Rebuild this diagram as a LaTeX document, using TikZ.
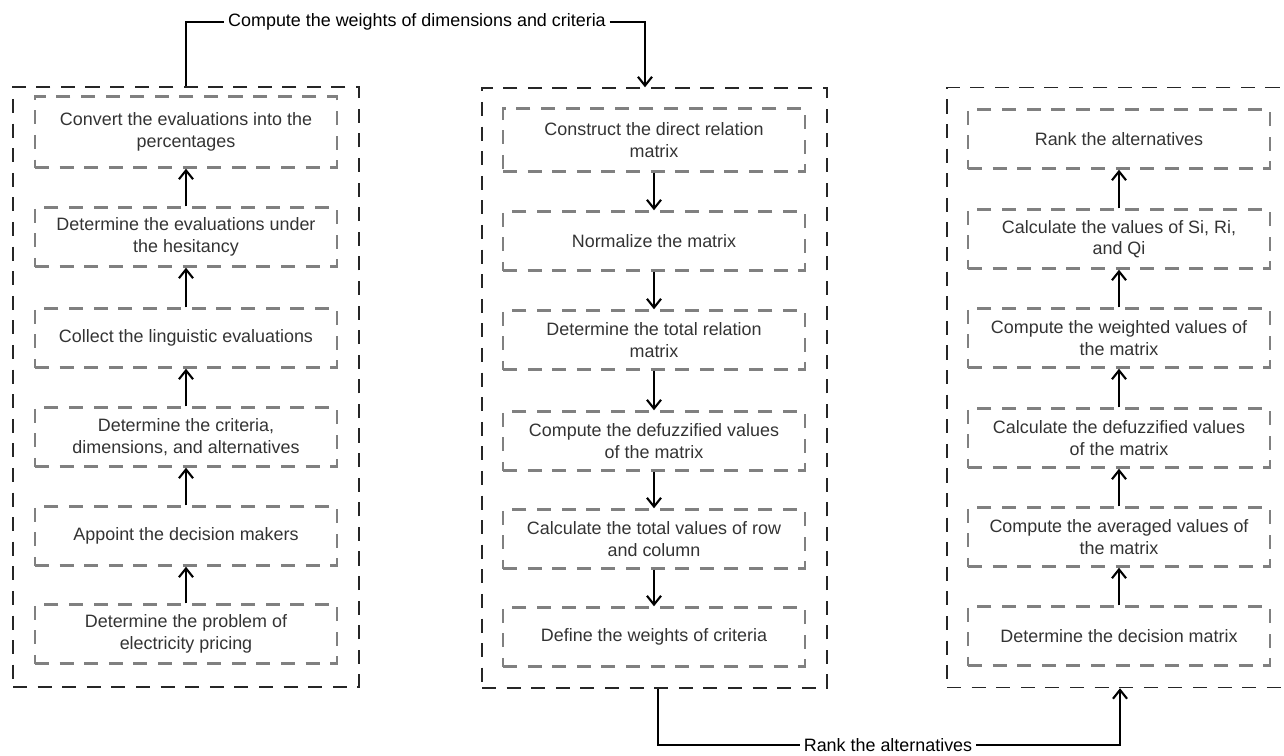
\documentclass[tikz,border=0pt]{standalone}
\usepackage{fontspec}
\setmainfont{Liberation Sans}
\usetikzlibrary{positioning, arrows.meta}
\definecolor{boxgray}{RGB}{128,128,128}
\definecolor{txtgray}{RGB}{51,51,51}

\begin{document}
\begin{tikzpicture}[x=0.02cm, y=-0.02cm]
	% 定义样式
	\tikzset{
		stage/.style={
			draw=black!85, dash pattern=on 8pt off 6pt, line width=0.9pt,
			minimum width=6.92cm, minimum height=12cm, inner sep=0pt
		},
		task/.style={
			draw=boxgray, dash pattern=on 8pt off 6pt, line width=1.4pt,
			text=txtgray, align=center, inner sep=2pt,
			minimum width=6.04cm, minimum height=1.18cm,
			font=\fontsize{10.2}{12.3}\selectfont
		},
		flow/.style={line width=1.2pt, -{Straight Barb[length=5pt,width=8pt]}},
		tag/.style={inner sep=2pt, font=\fontsize{10.2}{12.3}\selectfont}
	}
	
	\useasboundingbox (0,0) rectangle (1284,755);
	
	% 三个外框
	\node[stage] (leftbox) at (186,387) {};
	\node[stage, minimum width=6.9cm] (midbox) at (654.5,388) {};
	\node[stage] (rightbox) at (1120,387.5) {};
	
	% 左列步骤（自下而上）
	\foreach \i/\y/\h/\t in {
		1/132/1.42cm/{Convert the evaluations into the\\percentages},
		2/237/1.18cm/{Determine the evaluations under\\the hesitancy},
		3/338/1.18cm/{Collect the linguistic evaluations},
		4/437/1.18cm/{Determine the criteria,\\dimensions, and alternatives},
		5/536/1.18cm/{Appoint the decision makers},
		6/634/1.18cm/{Determine the problem of\\electricity pricing}} {
		\node[task, minimum height=\h] (left\i) at (186,\y) {\t};
	}
	
	% 中列步骤（自上而下）
	\foreach \i/\y/\h/\t in {
		1/140/1.26cm/{Construct the direct relation\\matrix},
		2/241/1.18cm/{Normalize the matrix},
		3/340/1.18cm/{Determine the total relation\\matrix},
		4/441/1.18cm/{Compute the defuzzified values\\of the matrix},
		5/539/1.18cm/{Calculate the total values of row\\and column},
		6/637/1.18cm/{Define the weights of criteria}} {
		\node[task, minimum height=\h] (mid\i) at (654,\y) {\t};
	}
	
	% 右列步骤（自下而上）
	\foreach \i/\y/\t in {
		1/139/{Rank the alternatives},
		2/239/{Calculate the values of Si, Ri,\\and Qi},
		3/338/{Compute the weighted values of\\the matrix},
		4/438/{Calculate the defuzzified values\\of the matrix},
		5/537/{Compute the averaged values of\\the matrix},
		6/636/{Determine the decision matrix}} {
		\node[task] (right\i) at (1119,\y) {\t};
	}
	
	% 列内箭头
	\foreach \i/\j in {1/2,2/3,3/4,4/5,5/6} {
		\draw[flow] (left\j) -- (left\i);
		\draw[flow] (mid\i) -- (mid\j);
		\draw[flow] (right\j) -- (right\i);
	}
	
	% 上方连线: 左框 -> 中框
	\node[tag] (toplabel) at (417,22) {Compute the weights of dimensions and criteria};
	\draw[line width=1.2pt] (leftbox.north) |- (toplabel.west);
	\draw[flow] (toplabel.east) -| ([xshift=-0.19cm]midbox.north);
	
	% 下方连线: 中框 -> 右框
	\node[tag] (botlabel) at (888,745) {Rank the alternatives};
	\draw[line width=1.2pt] ([xshift=0.07cm]midbox.south) |- (botlabel.west);
	\draw[flow] (botlabel.east) -| (rightbox.south);
\end{tikzpicture}
\end{document}
